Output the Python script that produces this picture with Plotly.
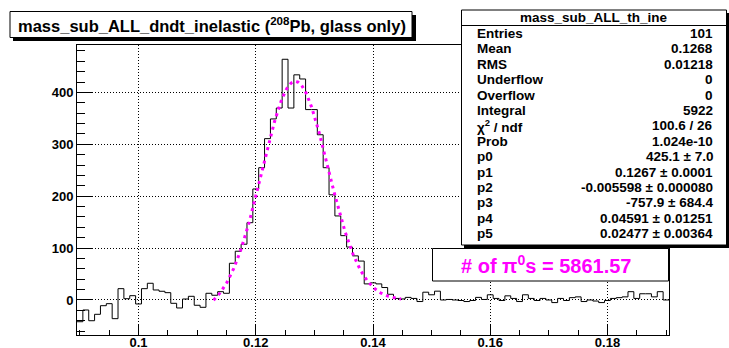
import numpy as np
import plotly.graph_objects as go

# ---------------- data ----------------
bin_low = 0.0895
bin_width = 0.001
counts = [
    -41.9, -19.3, -40.0, -27.6, -11.0, -7.1, -36.0, 21.8, 2.5, 8.3,
    -7.7, 21.8, 32.2, 19.3, 16.8, 14.1, -6.4, -15.4, 1.9, 7.1,
    -10.2, -14.1, 12.9, 9.1, 16.0, 12.9,
    70.8, 94.0, 107.5, 149.0, 214.0, 255.0, 311.0, 349.0, 370.0, 464.0,
    370.0, 434.0, 426.0, 367.0, 367.0, 318.5, 255.0, 202.7, 162.0, 124.0,
    102.0, 85.0, 75.0, 31.0, 33.0, 31.0, 24.0,
    11.0, 3.0, 2.0, 5.0, 3.0, -3.0, 15.0, 10.0, 17.0, 0.0,
    1.0, 0.0, -1.0, -3.0, -1.0, 5.0, 1.0, 10.0, 3.0, -1.0,
    8.0, 3.0, -3.0, 10.0, 3.0, -1.0, 3.0, 0.0, -5.0, 3.0,
    -1.0, 4.5, 6.0, -3.0, 0.0, -2.0, -5.0, -1.0, 3.0, 4.5,
    6.0, 16.0, 3.0, 12.0, 12.0, 6.0, 16.0, 0.0,
]
fit_params = [425.1, 0.1267, -0.005598, -757.9, 0.04591, 0.02477]
fit_range = [0.1128, 0.1448]

x_ticks = [0.1, 0.12, 0.14, 0.16, 0.18]
x_tick_labels = ["0.1", "0.12", "0.14", "0.16", "0.18"]
y_ticks = [0, 100, 200, 300, 400]
y_tick_labels = ["0", "100", "200", "300", "400"]

title_text = "mass_sub_ALL_dndt_inelastic (<sup>208</sup>Pb, glass only)"
stat_title = "mass_sub_ALL_th_ine"
stat_labels = ["Entries", "Mean", "RMS", "Underflow", "Overflow", "Integral",
               "χ<sup>2</sup> / ndf", "Prob", "p0", "p1", "p2", "p3", "p4", "p5"]
stat_values = ["101", "0.1268", "0.01218", "0", "0", "5922", "100.6 / 26",
               "1.024e-10", "425.1 ± 7.0", "0.1267 ± 0.0001",
               "-0.005598 ± 0.000080", "-757.9 ± 684.4",
               "0.04591 ± 0.01251", "0.02477 ± 0.00364"]
npi0_text = "# of π<sup>0</sup>s = 5861.57"

# ---------------- layout geometry ----------------
W, H = 729, 348
ML, MR, MT, MB = 77, 60, 45, 13
PW, PH = W - ML - MR, H - MT - MB


def px(x):
    return (x - ML) / PW


def py(y):
    return 1 - (y - MT) / PH


FONT = "Liberation Sans, Arial, Helvetica, sans-serif"

edges = [bin_low + i * bin_width for i in range(len(counts) + 1)]
hist_y = counts + [counts[-1]]

p0, p1, p2, p3, p4, p5 = fit_params
xf = np.linspace(fit_range[0], fit_range[1], 300)
yf = p0 * np.exp(-0.5 * ((xf - p1) / p2) ** 2) + p3 * np.exp(-0.5 * ((xf - p4) / p5) ** 2)

fig = go.Figure()
fig.add_trace(go.Scatter(x=edges, y=hist_y, mode="lines", line=dict(color="black", width=1, shape="hv"),
                         hoverinfo="skip"))
fig.add_trace(go.Scatter(x=xf, y=yf, mode="lines", line=dict(color="#ff00ff", width=3, dash="3px,4px"),
                         hoverinfo="skip"))

axis_common = dict(
    showline=True, linecolor="black", linewidth=1, mirror=True,
    ticks="inside", tickcolor="black", tickwidth=1,
    showgrid=True, gridcolor="black", gridwidth=1, griddash="1px,2px",
    zeroline=False, automargin=False,
    tickfont=dict(family=FONT, size=13, color="black", weight="bold"),
)

fig.update_xaxes(
    range=[bin_low, bin_low + bin_width * len(counts)],
    tickvals=x_ticks, ticktext=x_tick_labels, ticklen=10, ticklabelstandoff=-5,
    minor=dict(tick0=0.1, dtick=0.005, ticks="inside", ticklen=5, tickcolor="black", showgrid=False),
    **axis_common,
)
fig.update_yaxes(
    range=[-67.5, 491.5],
    tickvals=y_ticks, ticktext=y_tick_labels, ticklen=16,
    minor=dict(tick0=0, dtick=20, ticks="inside", ticklen=8, tickcolor="black", showgrid=False),
    **axis_common,
)

shapes = []
annotations = []

# title box with shadow
shapes.append(dict(type="rect", xref="paper", yref="paper", x0=px(13), x1=px(416), y0=py(15), y1=py(41),
                   fillcolor="black", line=dict(width=0), layer="above"))
shapes.append(dict(type="rect", xref="paper", yref="paper", x0=px(10), x1=px(412), y0=py(11.5), y1=py(37.5),
                   fillcolor="white", line=dict(color="black", width=1), layer="above"))
annotations.append(dict(xref="paper", yref="paper", x=px(212), y=py(25), text=title_text, showarrow=False,
                        xanchor="center", yanchor="middle",
                        font=dict(family=FONT, size=16.5, color="black", weight="bold")))

# stats box with shadow
shapes.append(dict(type="rect", xref="paper", yref="paper", x0=px(464), x1=px(729.5), y0=py(13), y1=py(248),
                   fillcolor="black", line=dict(width=0), layer="above"))
shapes.append(dict(type="rect", xref="paper", yref="paper", x0=px(461.5), x1=px(726.5), y0=py(10), y1=py(245),
                   fillcolor="white", line=dict(color="black", width=1), layer="above"))
shapes.append(dict(type="line", xref="paper", yref="paper", x0=px(461.5), x1=px(726.5), y0=py(25.5), y1=py(25.5),
                   line=dict(color="black", width=1), layer="above"))
annotations.append(dict(xref="paper", yref="paper", x=px(594), y=py(18), text=stat_title, showarrow=False,
                        xanchor="center", yanchor="middle",
                        font=dict(family=FONT, size=13.5, color="black", weight="bold")))
for k, (lab, val) in enumerate(zip(stat_labels, stat_values)):
    yy = 33.5 + 15.4 * k
    annotations.append(dict(xref="paper", yref="paper", x=px(475), y=py(yy), text=lab, showarrow=False,
                            xanchor="left", yanchor="middle",
                            font=dict(family=FONT, size=13.5, color="black", weight="bold")))
    annotations.append(dict(xref="paper", yref="paper", x=px(715), y=py(yy), text=val, showarrow=False,
                            xanchor="right", yanchor="middle",
                            font=dict(family=FONT, size=13.5, color="black", weight="bold")))

# pi0 count box
shapes.append(dict(type="rect", xref="paper", yref="paper", x0=px(432.5), x1=px(668.5), y0=py(248.5), y1=py(281),
                   fillcolor="white", line=dict(color="black", width=1), layer="above"))
annotations.append(dict(xref="paper", yref="paper", x=px(546), y=py(264), text=npi0_text, showarrow=False,
                        xanchor="center", yanchor="middle",
                        font=dict(family=FONT, size=20, color="#ff00ff", weight="bold")))

fig.update_layout(
    width=W, height=H,
    margin=dict(l=ML, r=MR, t=MT, b=MB, pad=0, autoexpand=False),
    plot_bgcolor="white", paper_bgcolor="white",
    showlegend=False,
    shapes=shapes, annotations=annotations,
)

fig.write_html("out.html")
